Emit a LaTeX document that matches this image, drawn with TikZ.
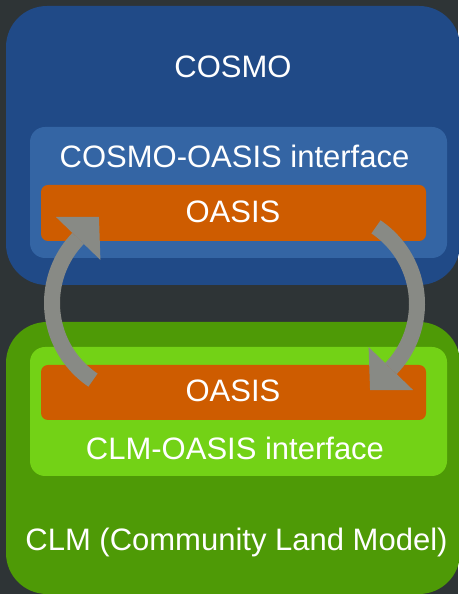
\documentclass[tikz,border=0pt]{standalone}
\usepackage{fontspec}
\setmainfont{Liberation Sans}
\usetikzlibrary{calc}
\definecolor{bgdark}{HTML}{2E3436}
\definecolor{cosmoouter}{HTML}{204A87}
\definecolor{cosmoinner}{HTML}{3465A4}
\definecolor{oasisorange}{HTML}{CE5C00}
\definecolor{clmouter}{HTML}{4E9A06}
\definecolor{clminner}{HTML}{73D216}
\definecolor{arrowgray}{HTML}{888A85}
\begin{document}
\begin{tikzpicture}[x=1pt,y=1pt,
  boxnode/.style={fill=#1, draw=none, inner sep=0pt, outer sep=0pt, anchor=south west},
  lbl/.style={text=white, font=\fontsize{31}{37}\selectfont, anchor=base, inner sep=0pt},
  flow/.style={line width=16pt, draw=arrowgray},
  flowhead/.style={fill=arrowgray, draw=none}]
\useasboundingbox (0,0) rectangle (458,594);
\fill[bgdark] (0,0) rectangle (458,594);

% COSMO part
\node[boxnode=cosmoouter, rounded corners=41pt, minimum width=454pt, minimum height=279pt] (cosmo) at (6,309) {};
\node[boxnode=cosmoinner, rounded corners=15pt, minimum width=417pt, minimum height=131pt] (cosmoif) at (30,336) {};
\node[boxnode=oasisorange, rounded corners=7pt, minimum width=385pt, minimum height=56pt] (oasistop) at (41,353) {};
\node[lbl] (cosmotxt) at (233,516) {COSMO};
\node[lbl] (cosmoiftxt) at (234.5,426) {COSMO-OASIS interface};
\node[lbl] (oasistoptxt) at (233,371) {OASIS};

% CLM part
\node[boxnode=clmouter, rounded corners=41pt, minimum width=454pt, minimum height=272pt] (clm) at (6,0) {};
\node[boxnode=clminner, rounded corners=15pt, minimum width=417pt, minimum height=129pt] (clmif) at (30,118) {};
\node[boxnode=oasisorange, rounded corners=7pt, minimum width=385pt, minimum height=55pt] (oasisbot) at (41,174) {};
\node[lbl] (oasisbottxt) at (233,192) {OASIS};
\node[lbl] (clmiftxt) at (235,134) {CLM-OASIS interface};
\node[lbl] (clmtxt) at (236.5,43) {CLM (Community Land Model)};

% exchange arrows
\coordinate (cl) at (145,291);
\coordinate (cr) at (324,290);
\draw[flow] ($(cl)+(236:93)$) arc[start angle=236, end angle=136, radius=93];
\fill[flowhead] ($(cl)+(136:124)$) -- ($(cl)+(136:93)+(46:30)$) -- ($(cl)+(136:62)$) -- cycle;
\draw[flow] ($(cr)+(56:93)$) arc[start angle=56, end angle=-44, radius=93];
\fill[flowhead] ($(cr)+(-44:124)$) -- ($(cr)+(-44:93)+(-134:30)$) -- ($(cr)+(-44:62)$) -- cycle;
\end{tikzpicture}
\end{document}
